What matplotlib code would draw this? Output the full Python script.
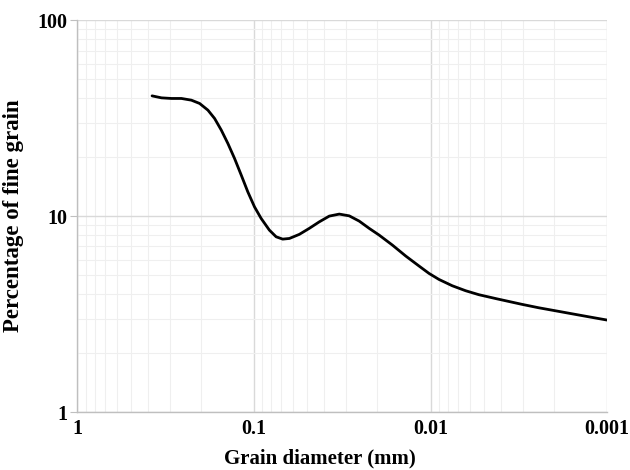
import matplotlib
matplotlib.use("Agg")
import matplotlib.pyplot as plt
from matplotlib.ticker import FixedLocator, LogLocator, NullFormatter, FuncFormatter

# grain size curve (mm, %)
diameter_mm = [0.378, 0.3344, 0.2936, 0.2578, 0.2263, 0.2032, 0.1824, 0.1672,
               0.1532, 0.1406, 0.1289, 0.1181, 0.1084, 0.09935, 0.0911, 0.0818,
               0.0749, 0.06876, 0.0630, 0.05533, 0.04859, 0.04265, 0.03745,
               0.03287, 0.02887, 0.02535, 0.02226, 0.01954, 0.01643, 0.0138,
               0.01161, 0.0102, 0.008954, 0.007528, 0.006325, 0.005321,
               0.004195, 0.00303, 0.002438, 0.001962, 0.001581, 0.001272, 0.001]
fine_pct = [41.1, 40.15, 39.86, 39.86, 39.07, 37.58, 34.74, 31.51,
            27.47, 23.49, 19.70, 16.19, 13.30, 11.15, 9.73, 8.48,
            7.84, 7.63, 7.69, 8.07, 8.66, 9.35, 10.0,
            10.24, 10.03, 9.43, 8.66, 8.00, 7.11, 6.25,
            5.56, 5.10, 4.75, 4.41, 4.16, 3.97,
            3.78, 3.544, 3.405, 3.287, 3.173, 3.063, 2.947]

x_ticks = [1, 0.1, 0.01, 0.001]
y_ticks = [1, 10, 100]

plt.rcParams["font.family"] = ["Liberation Serif", "DejaVu Serif"]
plt.rcParams["font.weight"] = "bold"

fig = plt.figure(figsize=(6.3, 4.7), dpi=100)
ax = fig.add_axes([0.123, 0.1234, 0.8405, 0.8336])

ax.plot(diameter_mm, fine_pct, color="black", lw=2.0,
        solid_capstyle="round", solid_joinstyle="round")

ax.set_xscale("log")
ax.set_yscale("log")
ax.set_xlim(1, 0.001)
ax.set_ylim(1, 100)

fmt = FuncFormatter(lambda v, p: f"{v:g}")
ax.xaxis.set_major_locator(FixedLocator(x_ticks))
ax.yaxis.set_major_locator(FixedLocator(y_ticks))
ax.xaxis.set_major_formatter(fmt)
ax.yaxis.set_major_formatter(fmt)
for axis in (ax.xaxis, ax.yaxis):
    axis.set_minor_locator(LogLocator(base=10, subs=range(2, 10)))
    axis.set_minor_formatter(NullFormatter())

ax.grid(which="major", color="#d9d9d9", lw=1.0)
ax.grid(which="minor", color="#efefef", lw=0.8)
ax.set_axisbelow(True)

for side in ("top", "right"):
    ax.spines[side].set_visible(False)
for side in ("left", "bottom"):
    ax.spines[side].set_color("#bfbfbf")
    ax.spines[side].set_linewidth(1.0)

ax.tick_params(axis="y", which="major", length=5, color="#bfbfbf", labelsize=14.5, pad=2)
ax.tick_params(axis="x", which="major", length=0, labelsize=14.5, pad=5)
ax.tick_params(which="minor", length=0)

ax.set_xlabel("Grain diameter (mm)", fontsize=15, fontweight="bold", labelpad=7)
ax.xaxis.label.set_x(0.458)
ax.set_ylabel("Percentage of fine grain", fontsize=16.5, fontweight="bold", labelpad=10)

fig.savefig("out.png", dpi=100)
